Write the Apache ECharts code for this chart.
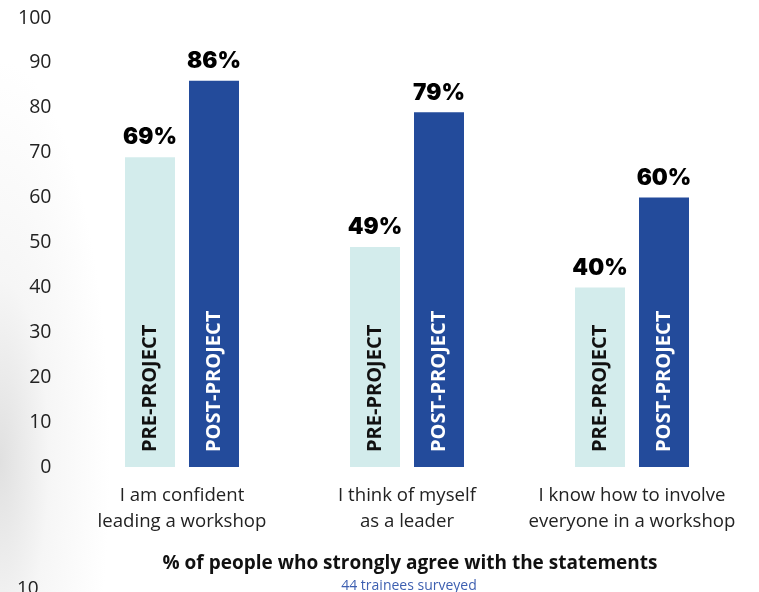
<!DOCTYPE html>
<html>
<head>
<meta charset="utf-8">
<script src="https://cdn.jsdelivr.net/npm/echarts@6/dist/echarts.min.js"></script>
<style>
html,body{margin:0;padding:0;background:#fff;}
#wrap{position:relative;width:759px;height:592px;overflow:hidden;
  background: radial-gradient(ellipse 110px 400px at 0px 460px, #e0e0e0 0%, rgba(240,240,240,0.6) 45%, rgba(255,255,255,0) 100%);}
#chart{position:absolute;left:0;top:0;width:759px;height:592px;}
</style>
</head>
<body>
<div id="wrap"><div id="chart"></div></div>
<script>
const categories = ["I am confident\nleading a workshop", "I think of myself\nas a leader", "I know how to involve\neveryone in a workshop"];
const preValues = [69, 49, 40];
const postValues = [86, 79, 60];
const yTicks = [0, 10, 20, 30, 40, 50, 60, 70, 80, 90, 100];
const seriesNames = ["PRE-PROJECT", "POST-PROJECT"];

const chart = echarts.init(document.getElementById('chart'), null, {renderer: 'canvas'});

const topLabel = (vals) => ({
  show: true, position: 'top', distance: 8,
  formatter: (p) => vals[p.dataIndex] + '%',
  fontFamily: 'Inter', fontWeight: 900, fontSize: 22.5, color: '#000'
});
const insideLabel = (name, color) => ({
  show: true, position: 'insideBottom', rotate: 90, distance: 15,
  align: 'left', verticalAlign: 'middle',
  formatter: name, fontFamily: 'Open Sans', fontWeight: 'bold', fontSize: 20, color: color
});

chart.setOption({
  animation: false,
  title: [
    {text: '% of people who strongly agree with the statements', left: 405, textAlign: 'center', top: 549,
     textStyle: {fontFamily: 'Open Sans', fontWeight: 'bold', fontSize: 19, color: '#111'}},
    {text: '44 trainees surveyed', left: 404, textAlign: 'center', top: 574,
     textStyle: {fontFamily: 'Open Sans', fontWeight: 'normal', fontSize: 14, color: '#3d5fb0'}},
    {text: '10', left: 12, top: 574,
     textStyle: {fontFamily: 'Open Sans', fontWeight: 'normal', fontSize: 19, color: '#222'}}
  ],
  grid: {left: 69.5, right: 14.5, top: 18, bottom: 125, containLabel: false},
  xAxis: {
    type: 'category', data: categories,
    axisLine: {show: false}, axisTick: {show: false},
    axisLabel: {fontFamily: 'Open Sans', fontSize: 18.6, color: '#222', lineHeight: 26, margin: 16, interval: 0}
  },
  yAxis: {
    type: 'value', min: yTicks[0], max: yTicks[yTicks.length - 1], interval: 10,
    splitLine: {show: false}, axisLine: {show: false}, axisTick: {show: false},
    axisLabel: {fontFamily: 'Open Sans', fontSize: 19.5, color: '#222', margin: 18}
  },
  series: [
    {name: seriesNames[0], type: 'bar', stack: 'pre', data: preValues, barWidth: 50, barGap: '28%',
     itemStyle: {color: '#d3ecec'}, label: insideLabel(seriesNames[0], '#111')},
    {name: 'preTop', type: 'bar', stack: 'pre', data: preValues.map(() => 0), barWidth: 50,
     itemStyle: {color: 'rgba(0,0,0,0)'}, label: topLabel(preValues)},
    {name: seriesNames[1], type: 'bar', stack: 'post', data: postValues, barWidth: 50, barGap: '28%',
     itemStyle: {color: '#234b9b'}, label: insideLabel(seriesNames[1], '#fff')},
    {name: 'postTop', type: 'bar', stack: 'post', data: postValues.map(() => 0), barWidth: 50,
     itemStyle: {color: 'rgba(0,0,0,0)'}, label: topLabel(postValues)}
  ]
});
</script>
</body>
</html>
